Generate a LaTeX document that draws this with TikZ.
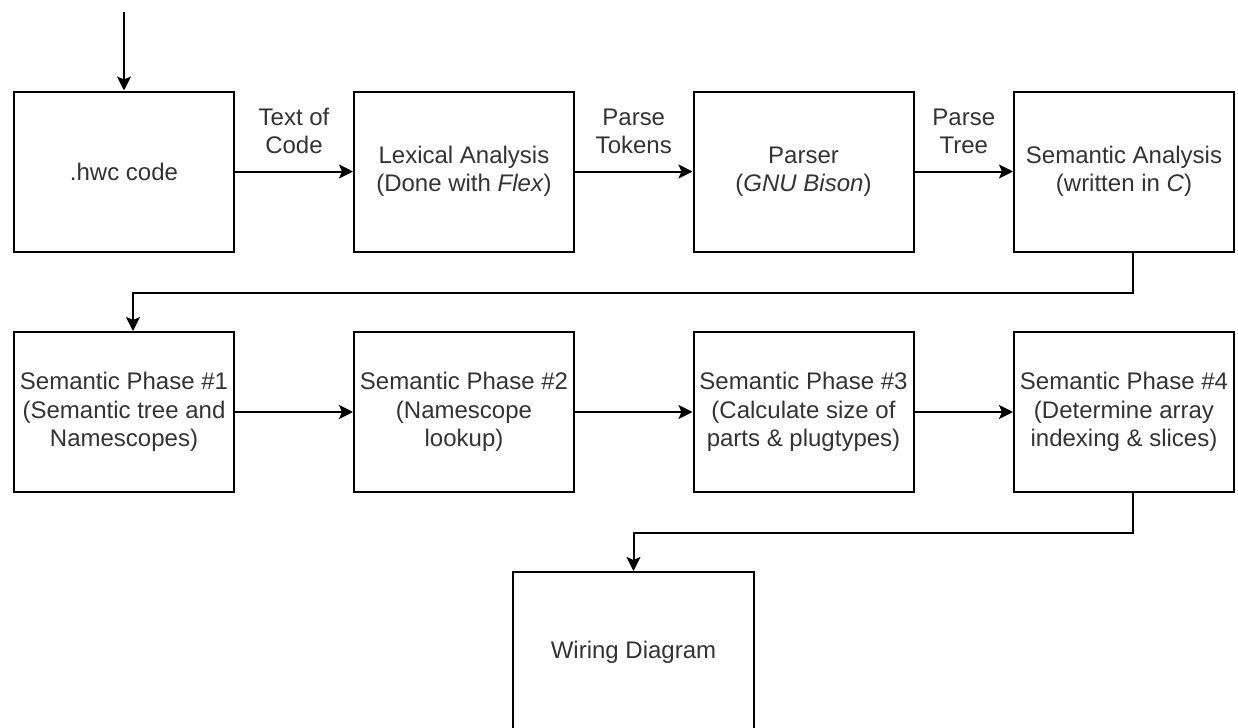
\documentclass[tikz,border=0pt]{standalone}
\usepackage{fontspec}
\setmainfont{Liberation Sans}
\usepackage{tikz}
\usetikzlibrary{arrows.meta,calc,positioning}

\definecolor{txtgray}{HTML}{333333}

\tikzset{
  stage/.style={draw=black, line width=1pt, minimum width=110pt, minimum height=80pt,
    inner sep=2pt, align=center, text=txtgray, font=\fontsize{12}{14.2}\selectfont},
  flow/.style={line width=1pt, -{Stealth[length=7pt,width=7pt,inset=1.5pt]}},
  lbl/.style={text=txtgray, align=center, font=\fontsize{12}{14}\selectfont}
}

\begin{document}
\begin{tikzpicture}[x=0.5pt,y=-0.5pt]
            \useasboundingbox (0,0) rectangle (1238,728);
            % First row
            \node[stage] (code) at (124,171.5) {.hwc code};
            \node[stage] (lex) at (464,171.5) {Lexical Analysis\\(Done with \textit{Flex})};
            \node[stage] (parse) at (803.5,171.5) {Parser\\(\textit{GNU Bison})};
            \node[stage] (sem) at (1124,171.5) {Semantic Analysis\\(written in \textit{C})};
            % Second row
            \node[stage] (ph1) at (124,412) {Semantic Phase \#1\\(Semantic tree and\\Namescopes)};
            \node[stage] (ph2) at (464,412) {Semantic Phase \#2\\(Namescope\\lookup)};
            \node[stage] (ph3) at (803.5,412) {Semantic Phase \#3\\(Calculate size of\\parts \& plugtypes)};
            \node[stage] (ph4) at (1124,412) {Semantic Phase \#4\\(Determine array\\indexing \& slices)};
            % Output
            \node[stage, minimum width=120.5pt] (wire) at (633.5,652) {Wiring Diagram};
            % Input arrow
            \coordinate (in) at (124,12);
            \draw[flow] (in) -- (code.north);
            % Row connectors
            \draw[flow] (code) -- (lex) node[lbl,midway,above=5pt]{Text of\\Code};
            \draw[flow] (lex) -- (parse) node[lbl,midway,above=5pt]{Parse\\Tokens};
            \draw[flow] (parse) -- (sem) node[lbl,midway,above=5pt]{Parse\\Tree};
            \draw[flow] (ph1) -- (ph2);
            \draw[flow] (ph2) -- (ph3);
            \draw[flow] (ph3) -- (ph4);
            % Wrap-around connectors
            \draw[flow] ([xshift=4.5pt]sem.south) -- ++(0,40) -| ([xshift=4.5pt]ph1.north);
            \draw[flow] ([xshift=4.5pt]ph4.south) -- ++(0,40) -| (wire.north);
          \end{tikzpicture}
\end{document}
